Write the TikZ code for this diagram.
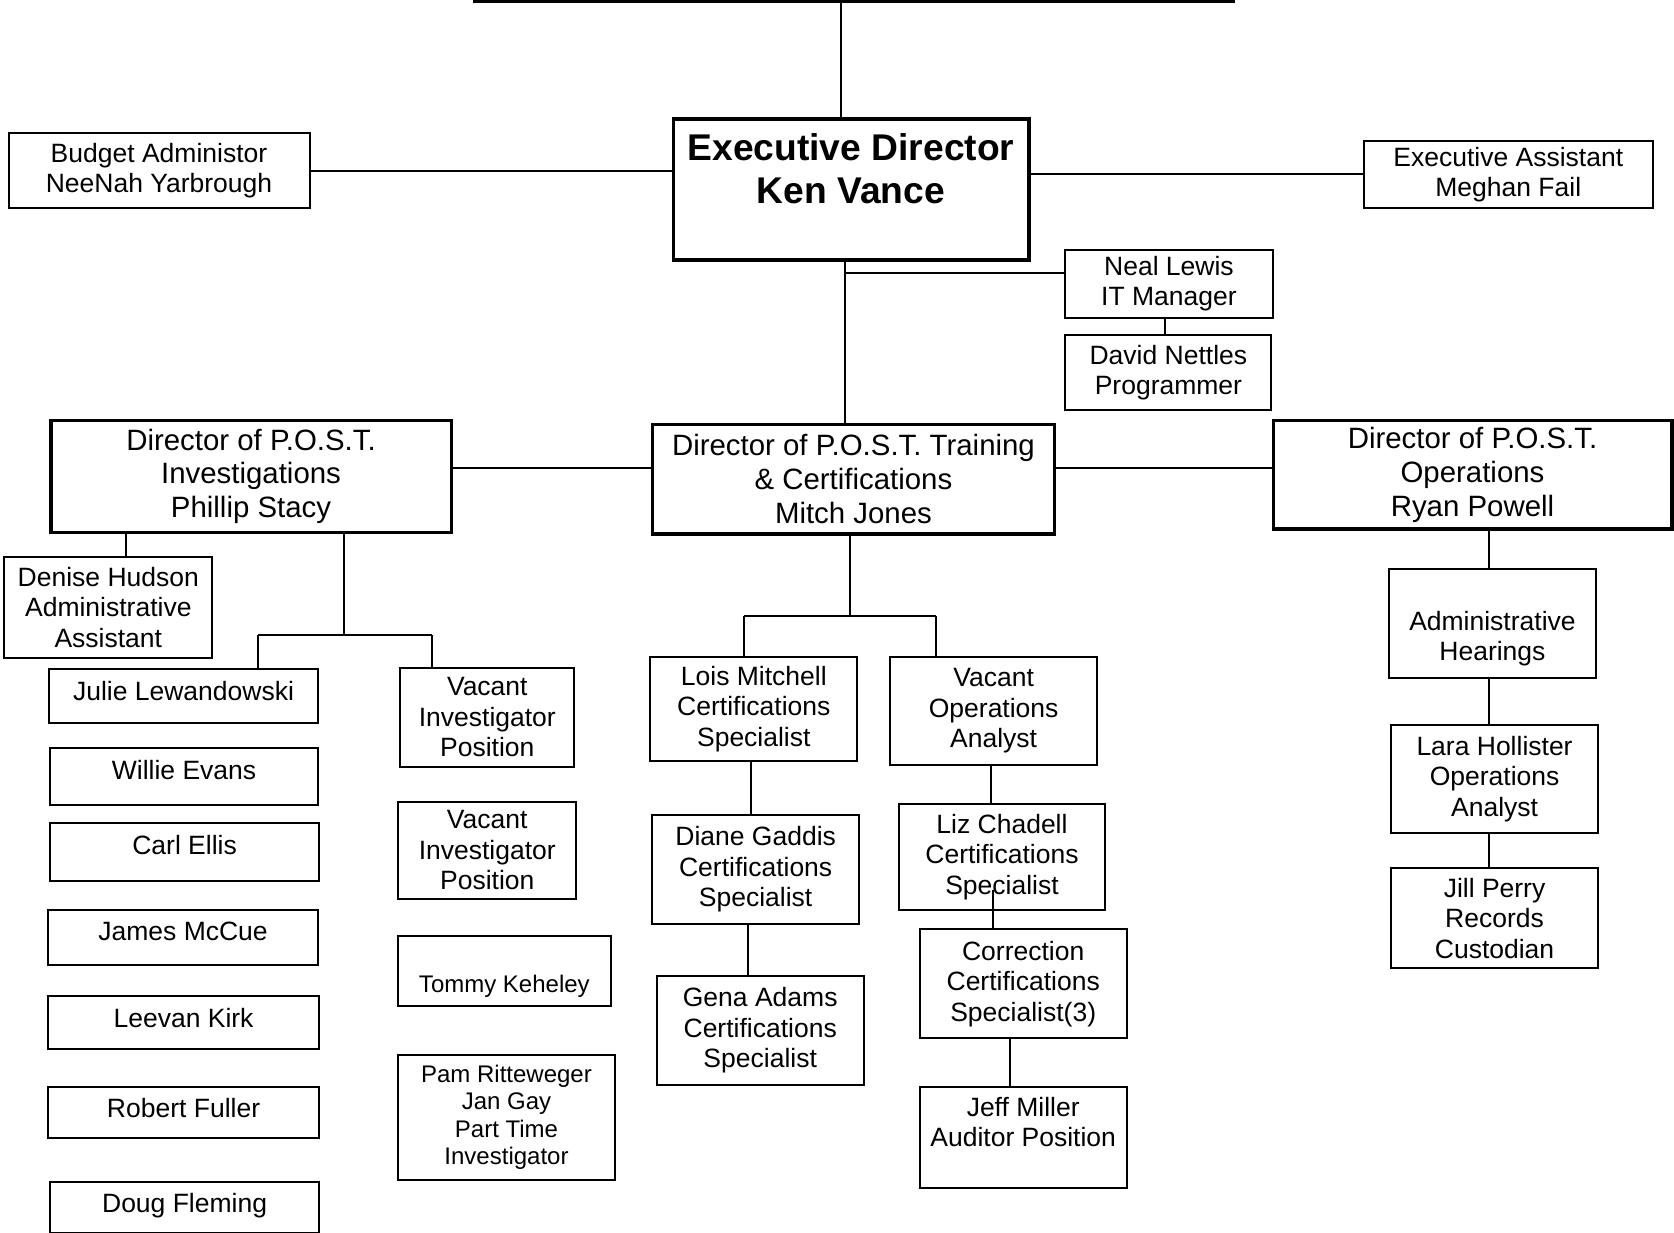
\documentclass[tikz,border=0pt]{standalone}
\usepackage{fontspec}
\setmainfont{Liberation Sans}
\newcommand\bxat[7]{\node[#1, anchor=north west, minimum width={#5-#3}, minimum height={#6-#4}] (#2) at (#3,#4) {#7};}
\newcommand\upby[2]{\raisebox{#1pt}[\height][\depth]{#2}}
\tikzset{
 bx/.style={draw, line width=2pt, align=center, inner sep=2pt, font=\fontsize{26.5}{30.5}\selectfont},
 dirbx/.style={bx, line width=3.5pt, font=\fontsize{29.4}{33.8}\selectfont},
 exbx/.style={bx, line width=3.5pt, font=\fontsize{37.2}{42.7}\bfseries\selectfont},
 smbx/.style={bx, font=\fontsize{24}{27.5}\selectfont},
 link/.style={line width=2pt},
}
\begin{document}
\begin{tikzpicture}[x=1pt,y=-1pt]
\useasboundingbox (0,0) rectangle (1674,1233);
% boxes
\bxat{exbx}{exec}{671.5}{117.4}{1027}{258.4}{Executive Director\\Ken Vance\\\mbox{}}
\bxat{bx}{budget}{7.5}{132.4}{308.5}{207.1}{Budget Administor\\NeeNah Yarbrough}
\bxat{bx}{ea}{1363}{140}{1651.6}{207}{Executive Assistant\\Meghan Fail}
\bxat{bx}{neal}{1064.4}{248.7}{1271.5}{317}{Neal Lewis\\IT Manager}
\bxat{bx}{david}{1064.4}{334.2}{1270.4}{408.9}{David Nettles\\Programmer}
\bxat{dirbx}{inv}{49.1}{418.5}{449.5}{530.6}{Director of P.O.S.T.\\Investigations\\Phillip Stacy}
\bxat{dirbx}{train}{650.7}{422.7}{1052.7}{532}{Director of P.O.S.T. Training\\\& Certifications\\Mitch Jones}
\bxat{dirbx}{ops}{1271.5}{418.5}{1670}{527.4}{Director of P.O.S.T.\\Operations\\Ryan Powell}
\bxat{bx}{denise}{3.2}{556.2}{211.4}{656.6}{Denise Hudson\\Administrative\\Assistant}
\bxat{bx}{julie}{48}{668.3}{317.1}{721.7}{\upby{5}{Julie Lewandowski}}
\bxat{bx}{willie}{49.1}{747.3}{317.1}{803.9}{\upby{7}{Willie Evans}}
\bxat{bx}{carl}{49.1}{822}{318.1}{879.7}{\upby{7}{Carl Ellis}}
\bxat{bx}{james}{47}{908.5}{317.1}{964}{\upby{6}{James McCue}}
\bxat{bx}{leevan}{47}{995}{318.1}{1048.4}{\upby{5}{Leevan Kirk}}
\bxat{bx}{robert}{47}{1085.7}{318.1}{1137}{\upby{4}{Robert Fuller}}
\bxat{bx}{doug}{49.1}{1180.8}{318.1}{1232}{\upby{2}{Doug Fleming}}
\bxat{bx}{vaca}{399.3}{667.3}{573.3}{765.5}{Vacant\\Investigator\\Position}
\bxat{bx}{vacb}{397.1}{800.7}{575.4}{897.9}{Vacant\\Investigator\\Position}
\bxat{smbx}{tommy}{397.1}{935.2}{609.6}{1004.6}{\mbox{}\\[20pt]Tommy Keheley}
\bxat{smbx}{pam}{397.1}{1053.7}{613.9}{1178.6}{Pam Ritteweger\\Jan Gay\\Part Time\\Investigator}
\bxat{bx}{lois}{649.3}{655.7}{856.3}{760.3}{Lois Mitchell\\Certifications\\Specialist}
\bxat{bx}{vacops}{889.3}{655.7}{1096}{763.7}{Vacant\\Operations\\Analyst}
\bxat{bx}{diane}{651.3}{814}{858}{923}{Diane Gaddis\\Certifications\\Specialist}
\bxat{bx}{gena}{655.7}{974.7}{862.7}{1084}{Gena Adams\\Certifications\\Specialist}
\bxat{bx}{liz}{897.7}{802.7}{1104.3}{909.3}{Liz Chadell\\Certifications\\Specialist}
\bxat{bx}{corr}{918.7}{928.3}{1125.7}{1037.3}{Correction\\Certifications\\Specialist(3)}
\bxat{bx}{jeff}{918.7}{1085.7}{1125.7}{1186.7}{Jeff Miller\\Auditor Position\\\mbox{}}
\bxat{bx}{adm}{1387.9}{568}{1595}{676.9}{\mbox{}\\[19pt]Administrative\\Hearings}
\bxat{bx}{lara}{1390}{723.8}{1597.1}{831.6}{Lara Hollister\\Operations\\Analyst}
\bxat{bx}{jill}{1390}{866.9}{1597.1}{967.2}{Jill Perry\\Records\\Custodian}
% coordinates
\coordinate (topL) at (473,1.5);
\coordinate (topR) at (1235,1.5);
\coordinate (topM) at (841,1.5);
\coordinate (vx) at (844.5,0);
\coordinate (nj) at (844.5,273.3);
\coordinate (hy) at (0,467.6);
\coordinate (dx) at (126,0);
\coordinate (ix) at (343.8,635.2);
\coordinate (iL) at (258.4,635.2);
\coordinate (iR) at (432.4,635.2);
\coordinate (tx) at (849.8,616);
\coordinate (tL) at (744.2,616);
\coordinate (tR) at (935.5,616);
\coordinate (lx) at (750.6,0);
\coordinate (gx) at (748.3,0);
\coordinate (zx) at (990.7,0);
\coordinate (cS) at (992.5,890);
\coordinate (jx) at (1009.5,0);
\coordinate (ox) at (1489.3,0);
\coordinate (nx) at (1164.8,0);
% connectors
\draw[line width=3pt] (topL) -- (topR);
\draw[link] (topM) -- (topM |- exec.north);
\draw[link] (budget.east) -- (budget.east -| exec.west);
\draw[link] (ea.west) -- (ea.west -| exec.east);
\draw[link] (vx |- exec.south) -- (vx |- train.north);
\draw[link] (nj) -- (nj -| neal.west);
\draw[link] (nx |- neal.south) -- (nx |- david.north);
\draw[link] (hy -| inv.east) -- (hy -| train.west);
\draw[link] (hy -| train.east) -- (hy -| ops.west);
\draw[link] (dx |- inv.south) -- (dx |- denise.north);
\draw[link] (ix |- inv.south) -- (ix);
\draw[link] (iL) -- (iR);
\draw[link] (iL) -- (iL |- julie.north);
\draw[link] (iR) -- (iR |- vaca.north);
\draw[link] (tx |- train.south) -- (tx);
\draw[link] (tL) -- (tR);
\draw[link] (tL) -- (tL |- lois.north);
\draw[link] (tR) -- (tR |- vacops.north);
\draw[link] (lx |- lois.south) -- (lx |- diane.north);
\draw[link] (gx |- diane.south) -- (gx |- gena.north);
\draw[link] (zx |- vacops.south) -- (zx |- liz.north);
\draw[link] (cS) -- (cS |- corr.north);
\draw[link] (jx |- corr.south) -- (jx |- jeff.north);
\draw[link] (ox |- ops.south) -- (ox |- adm.north);
\draw[link] (ox |- adm.south) -- (ox |- lara.north);
\draw[link] (ox |- lara.south) -- (ox |- jill.north);
\end{tikzpicture}
\end{document}
